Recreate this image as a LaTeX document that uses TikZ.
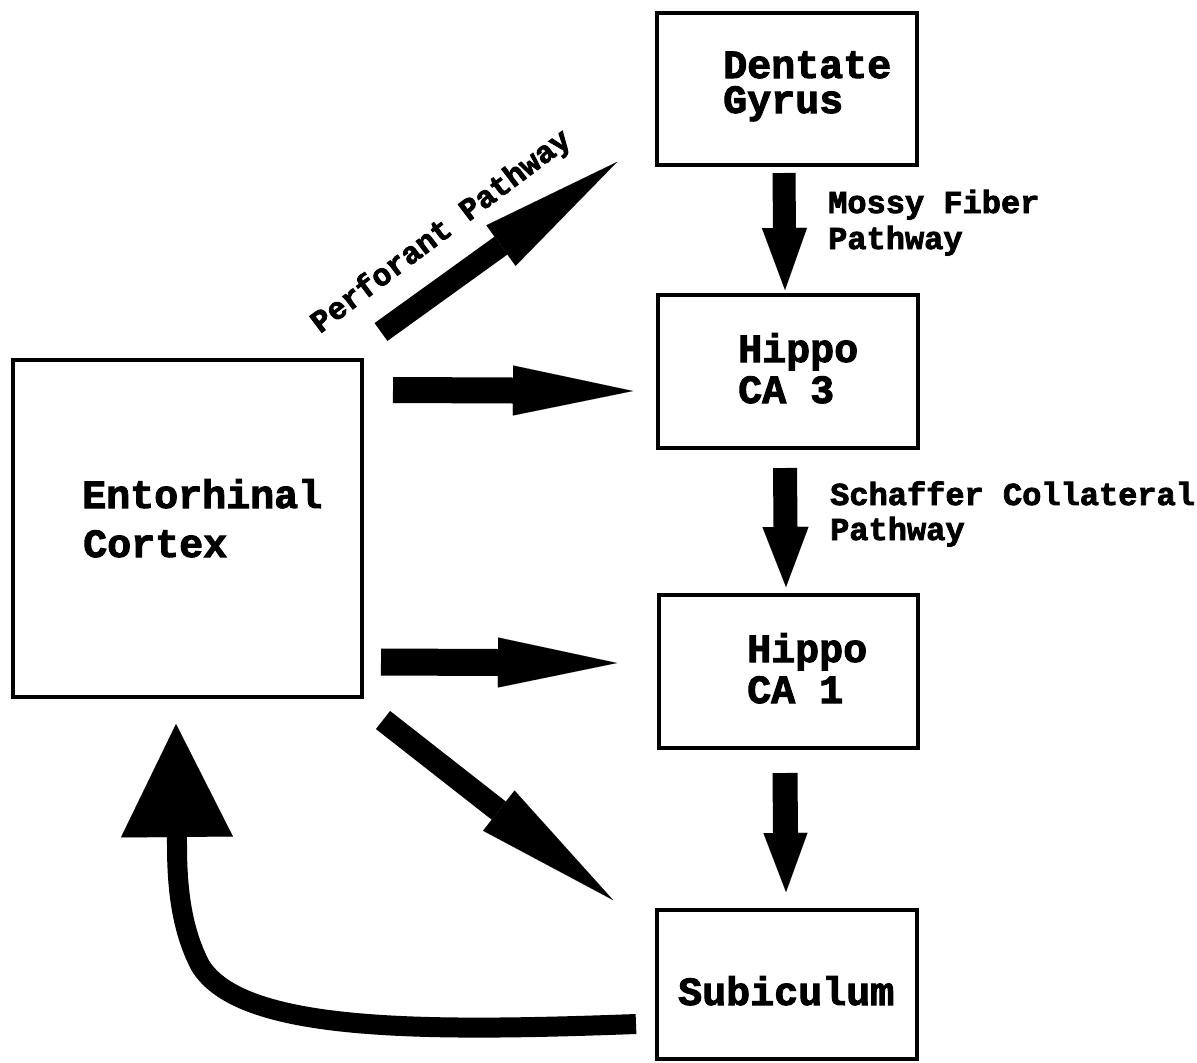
\documentclass[tikz,border=0pt]{standalone}
\usepackage{fontspec}
\newfontfamily\cour{Liberation Mono}[BoldFeatures={FakeBold=2.5}]
\usetikzlibrary{arrows.meta}
\begin{document}
\begin{tikzpicture}[x=1pt,y=-1pt,
  box/.style={draw, line width=3.5pt, inner sep=0pt},
  big/.style={font=\cour\bfseries\fontsize{40pt}{48pt}\selectfont, inner sep=0pt, anchor=base west},
  small/.style={font=\cour\bfseries\fontsize{32pt}{38pt}\selectfont, inner sep=0pt, anchor=base west},
  blk/.style n args={3}{line width=#1, -{Triangle[width=#2 0 0, length=#3 0 0, line width=0.01pt]}}]
\useasboundingbox (0,0) rectangle (1197,1063);
% boxes
\node[box, minimum width=260pt, minimum height=152pt] (dg) at (787,89) {};
\node[box, minimum width=260pt, minimum height=153pt] (ca3) at (788,371.5) {};
\node[box, minimum width=259pt, minimum height=153pt] (ca1) at (788.5,671.5) {};
\node[box, minimum width=260pt, minimum height=149pt] (sub) at (787,984.5) {};
\node[box, minimum width=349pt, minimum height=337pt] (ec) at (187.5,528.5) {};
% box texts
\node[big] (dgA) at (723,78) {Dentate};
\node[big] (dgB) at (723,113) {Gyrus};
\node[big] (ca3A) at (738,362) {Hippo};
\node[big] (ca3B) at (738,403) {CA 3};
\node[big] (ca1A) at (747,662) {Hippo};
\node[big] (ca1B) at (747,703) {CA 1};
\node[big] (subA) at (678,1005) {Subiculum};
\node[big] (ecA) at (82,508) {Entorhinal};
\node[big] (ecB) at (83,557) {Cortex};
% pathway labels
\node[small] (mfA) at (828,213) {Mossy Fiber};
\node[small] (mfB) at (828,249) {Pathway};
\node[small] (scA) at (830,505) {Schaffer Collateral};
\node[small] (scB) at (830,540) {Pathway};
\node[small, font=\cour\bfseries\fontsize{31pt}{36pt}\selectfont, rotate=37] (pp) at (320,334) {Perforant Pathway};
% arrow end points
\coordinate (ppS) at (381,332);   \coordinate (ppE) at (617,162);
\coordinate (e3S) at (393,390);   \coordinate (e3E) at (633,391);
\coordinate (e1S) at (381,662);   \coordinate (e1E) at (617,663);
\coordinate (esS) at (383,720);   \coordinate (esE) at (613,900);
\coordinate (mfS) at (784,173);   \coordinate (mfE) at (785,290);
\coordinate (scS) at (785,468);   \coordinate (scE) at (786,587);
\coordinate (csS) at (785,773);   \coordinate (csE) at (786,892);
\coordinate (seS) at (636,1024);  \coordinate (seE) at (176,724);
% arrows
\draw[blk={22pt}{50pt}{143pt}] (ppS) -- (ppE);
\draw[blk={26pt}{50pt}{120pt}] (e3S) -- (e3E);
\draw[blk={27pt}{50pt}{119pt}] (e1S) -- (e1E);
\draw[blk={23pt}{51pt}{145pt}] (esS) -- (esE);
\draw[blk={23pt}{45pt}{62pt}] (mfS) -- (mfE);
\draw[blk={24pt}{46pt}{60pt}] (scS) -- (scE);
\draw[blk={25pt}{44pt}{59pt}] (csS) -- (csE);
\draw[blk={20pt}{112pt}{113pt}] (seS) .. controls (420,1032) and (240,1032) .. (200,965)
   .. controls (182,930) and (177,890) .. (177,845) -- (seE);
\end{tikzpicture}
\end{document}
